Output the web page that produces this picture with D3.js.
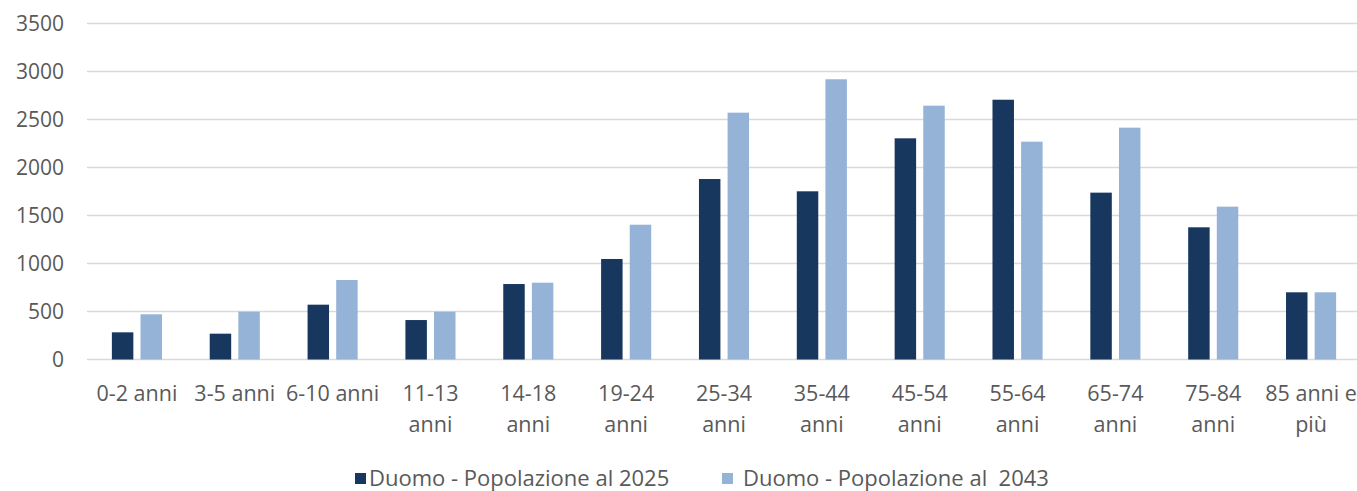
<!DOCTYPE html>
<html>
<head>
<meta charset="utf-8">
<script src="https://cdn.jsdelivr.net/npm/d3@7"></script>
<style>
  html, body { margin: 0; padding: 0; background: #ffffff; }
  svg { display: block; }
  text { font-family: "Open Sans", "Noto Sans", sans-serif; fill: #595959; }
</style>
</head>
<body>
<svg id="chart" width="1357" height="491"></svg>
<script>
const categories = ["0-2 anni", "3-5 anni", "6-10 anni", "11-13 anni", "14-18 anni", "19-24 anni",
  "25-34 anni", "35-44 anni", "45-54 anni", "55-64 anni", "65-74 anni", "75-84 anni", "85 anni e più"];
const seriesNames = ["Duomo - Popolazione al 2025", "Duomo - Popolazione al  2043"];
const pop2025 = [283, 269, 571, 411, 786, 1047, 1880, 1752, 2304, 2706, 1738, 1377, 700];
const pop2043 = [471, 498, 828, 498, 800, 1404, 2571, 2919, 2644, 2269, 2415, 1592, 700];
const yTicks = [0, 500, 1000, 1500, 2000, 2500, 3000, 3500];
const colors = ["#17375e", "#95b3d7"];
// explicit line breaks as the original wraps labels
const labelLines = [["0-2 anni"], ["3-5 anni"], ["6-10 anni"], ["11-13", "anni"], ["14-18", "anni"],
  ["19-24", "anni"], ["25-34", "anni"], ["35-44", "anni"], ["45-54", "anni"], ["55-64", "anni"],
  ["65-74", "anni"], ["75-84", "anni"], ["85 anni e", "più"]];

const svg = d3.select("#chart");
const mLeft = 88, mRight = 1360, mTop = 23.5, mBottom = 359.5;

const y = d3.scaleLinear().domain([0, 3500]).range([mBottom, mTop]);
const x0 = d3.scaleBand().domain(categories).range([mLeft, mRight]).paddingInner(0.488).paddingOuter(0.244);
const x1 = d3.scaleBand().domain([0, 1]).range([0, x0.bandwidth()]).paddingInner(0.25).paddingOuter(0);

// gridlines
svg.append("g").selectAll("line").data(yTicks).join("line")
  .attr("x1", mLeft - 1).attr("x2", 1357)
  .attr("y1", d => y(d)).attr("y2", d => y(d))
  .attr("stroke", "#d9d9d9").attr("stroke-width", 1.6);

// y axis labels
const yAxis = d3.axisLeft(y).tickValues(yTicks).tickSize(0).tickPadding(0).tickFormat(d3.format("d"));
const yg = svg.append("g").attr("transform", `translate(${64},0)`).call(yAxis);
yg.select(".domain").remove();
yg.selectAll("text").attr("font-size", "21px").attr("fill", "#595959")
  .style("font-family", '"Open Sans", sans-serif');

// bars
const series = [pop2025, pop2043];
const groups = svg.append("g").selectAll("g").data(categories).join("g")
  .attr("transform", d => `translate(${x0(d)},0)`);
groups.selectAll("rect").data((d, i) => series.map((s, k) => ({ k, v: s[i] }))).join("rect")
  .attr("x", d => x1(d.k))
  .attr("width", x1.bandwidth())
  .attr("y", d => y(d.v))
  .attr("height", d => y(0) - y(d.v))
  .attr("fill", d => colors[d.k]);

// x axis labels
const xl = svg.append("g");
categories.forEach((c, i) => {
  const t = xl.append("text")
    .attr("x", x0(c) + x0.bandwidth() / 2)
    .attr("y", 401)
    .attr("text-anchor", "middle")
    .attr("font-size", "21.5px");
  labelLines[i].forEach((ln, j) => {
    t.append("tspan").attr("x", x0(c) + x0.bandwidth() / 2).attr("dy", j === 0 ? 0 : 31).text(ln);
  });
});

// legend
const legendItems = [
  { x: 355, tx: 369, name: seriesNames[0], c: colors[0] },
  { x: 722, tx: 743, name: seriesNames[1], c: colors[1] }];
const lg = svg.append("g");
legendItems.forEach(it => {
  lg.append("rect").attr("x", it.x).attr("y", 473).attr("width", 11).attr("height", 11).attr("fill", it.c);
  lg.append("text").attr("x", it.tx).attr("y", 486).attr("font-size", "22px")
    .attr("xml:space", "preserve").style("white-space", "pre").text(it.name);
});
</script>
</body>
</html>
